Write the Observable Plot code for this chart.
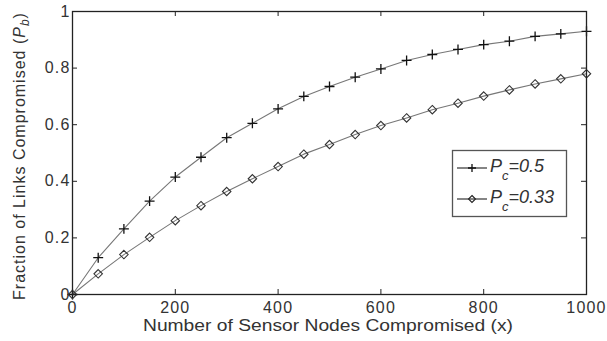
<!DOCTYPE html>
<html><head><meta charset="utf-8">
<script src="https://cdn.jsdelivr.net/npm/d3@7"></script>
<script src="https://cdn.jsdelivr.net/npm/@observablehq/plot@0.6"></script>
<style>
body{margin:0;background:#fff;}
#wrap{position:relative;width:607px;height:341px;overflow:hidden;}
</style></head><body><div id="wrap"></div>
<script>
const xValues = [0,50,100,150,200,250,300,350,400,450,500,550,600,650,700,750,800,850,900,950,1000];
const pc05 = [0,0.130,0.232,0.330,0.415,0.485,0.554,0.605,0.656,0.700,0.735,0.768,0.797,0.827,0.848,0.866,0.883,0.895,0.912,0.921,0.930];
const pc033 = [0,0.073,0.141,0.202,0.261,0.314,0.364,0.409,0.452,0.496,0.530,0.565,0.597,0.624,0.653,0.676,0.701,0.723,0.744,0.762,0.780];
const seriesNames = ["0.5","0.33"];
const xTicks = [0,200,400,600,800,1000];
const yTicks = [0,0.2,0.4,0.6,0.8,1];
const xLabel = "Number of Sensor Nodes Compromised (x)";
const yLabel = ["Fraction of Links Compromised (", "P", "b", ")"];

const s05 = xValues.map((x,i)=>({x, y:pc05[i], s:seriesNames[0]}));
const s033 = xValues.map((x,i)=>({x, y:pc033[i], s:seriesNames[1]}));
const data = s05.concat(s033);
const font = "'Liberation Sans', Arial, sans-serif";

const W = 607, H = 341, mL = 72, mR = 21, mT = 11, mB = 47;
const innerW = W - mL - mR, innerH = H - mT - mB, tick = 5;

const chart = Plot.plot({
  width:W, height:H,
  marginLeft:mL, marginRight:mR, marginTop:mT, marginBottom:mB,
  x:{domain:[0,1000]},
  y:{domain:[0,1]},
  style:{fontFamily:font, fontSize:"16px", color:"#222", background:"#fff", overflow:"visible"},
  marks:[
    Plot.axisX(xTicks, {anchor:"bottom", tickSize:0, tickPadding:7, label:null, tickFormat:d=>String(d), fill:"#333"}),
    Plot.axisY(yTicks, {anchor:"left", tickSize:0, tickPadding:2, label:null, tickFormat:d=>String(d), fill:"#333"}),
    // inward ticks on all four sides
    Plot.tickX(xTicks, {x:d=>d, insetTop:innerH - tick, stroke:"#222"}),
    Plot.tickX(xTicks, {x:d=>d, insetBottom:innerH - tick, stroke:"#222"}),
    Plot.tickY(yTicks, {y:d=>d, insetRight:innerW - tick, stroke:"#222"}),
    Plot.tickY(yTicks, {y:d=>d, insetLeft:innerW - tick, stroke:"#222"}),
    Plot.line(data, {x:"x", y:"y", z:"s", stroke:"#777", strokeWidth:1.1}),
    Plot.dot(s05, {x:"x", y:"y", symbol:"plus", r:3.3, stroke:"#111", strokeWidth:1.3}),
    Plot.dot(s033, {x:"x", y:"y", symbol:"diamond2", r:3.8, stroke:"#333", strokeWidth:1.1}),
    Plot.frame({stroke:"#222", strokeWidth:1.3})
  ]
});
document.getElementById("wrap").appendChild(chart);

const svg = d3.select(chart);
svg.selectAll("text").style("letter-spacing","1.2px");
// axis titles
svg.append("text").attr("x",328).attr("y",331).attr("text-anchor","middle")
  .attr("textLength",370).attr("lengthAdjust","spacingAndGlyphs")
  .style("font-family",font).style("font-size","16px").attr("fill","#333")
  .text(xLabel);
const yl = svg.append("text").attr("transform","translate(25,156) rotate(-90)").attr("text-anchor","middle")
  .style("font-family",font).style("font-size","16px").style("letter-spacing","1px").attr("fill","#333");
yl.append("tspan").text(yLabel[0]);
yl.append("tspan").style("font-style","italic").text(yLabel[1]);
yl.append("tspan").attr("dy",4).style("font-size","12px").style("font-style","italic").text(yLabel[2]);
yl.append("tspan").attr("dy",-4).text(yLabel[3]);

// legend
const lg = svg.append("g");
lg.append("rect").attr("x",452.5).attr("y",150.5).attr("width",114).attr("height",66)
  .attr("fill","#fff").attr("stroke","#555").attr("stroke-width",1.3);
const rows = [{name:seriesNames[0], y:168, sym:"plus"},{name:seriesNames[1], y:199, sym:"diamond"}];
rows.forEach(r=>{
  lg.append("line").attr("x1",457).attr("x2",487).attr("y1",r.y).attr("y2",r.y).attr("stroke","#222").attr("stroke-width",1.1);
  if(r.sym==="plus"){
    lg.append("path").attr("d",`M468,${r.y}h8M472,${r.y-4}v8`).attr("stroke","#111").attr("stroke-width",1.3);
  } else {
    lg.append("path").attr("d",`M472,${r.y-3.5}l3.5,3.5l-3.5,3.5l-3.5,-3.5z`).attr("fill","none").attr("stroke","#222").attr("stroke-width",1.1);
  }
  const t = lg.append("text").attr("x",490).attr("y",r.y+4).attr("text-anchor","start")
    .style("font-family",font).style("font-size","18px").style("font-style","italic").attr("fill","#333");
  t.append("tspan").text("P");
  t.append("tspan").attr("dy",8).style("font-size","13px").text("c");
  t.append("tspan").attr("dy",-8).text("=" + r.name);
});
</script>
</body></html>
